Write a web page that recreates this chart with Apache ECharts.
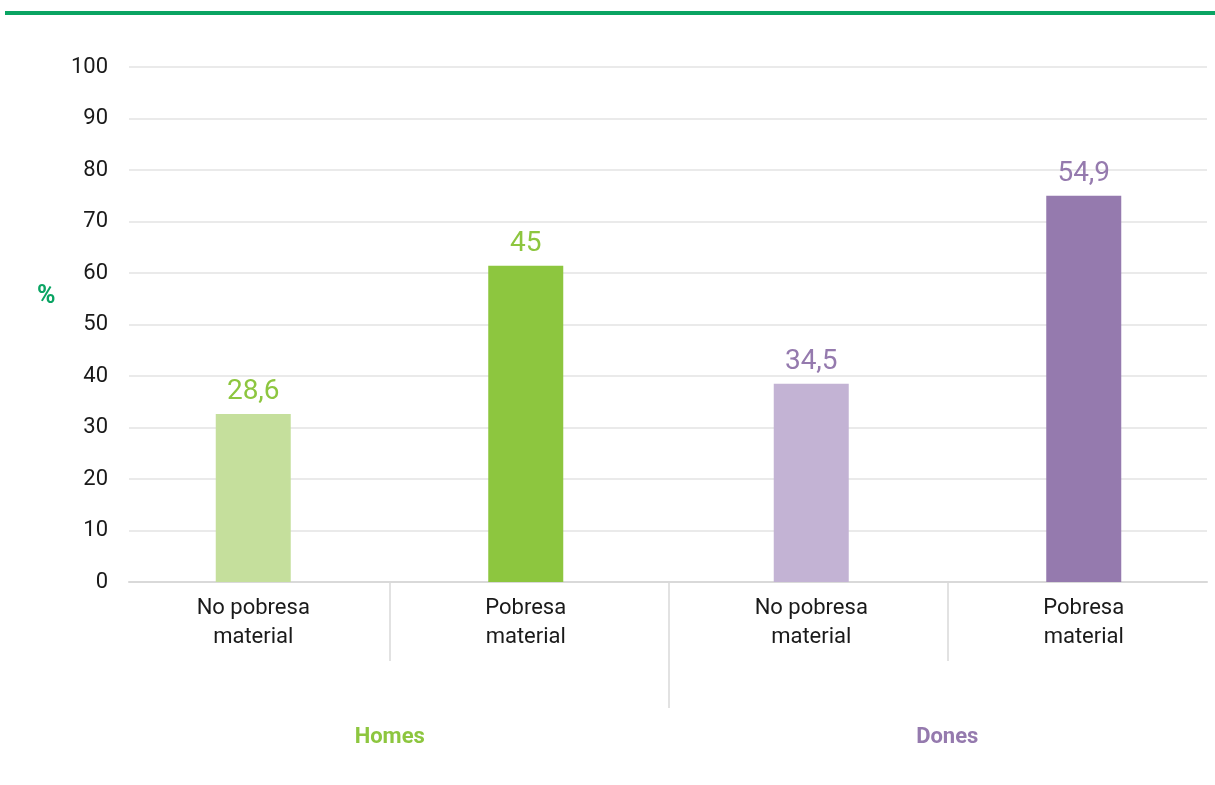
<!DOCTYPE html>
<html>
<head>
<meta charset="utf-8">
<script src="https://cdn.jsdelivr.net/npm/echarts@6/dist/echarts.min.js"></script>
<style>html,body{margin:0;padding:0;background:#fff;}#chart{width:1215px;height:785px;}</style>
</head>
<body>
<div id="chart"></div>
<script>
const categories = ['No pobresa\nmaterial', 'Pobresa\nmaterial'];
const groups = ['Homes', 'Dones'];
const homesValues = [32.6, 61.4];
const donesValues = [38.5, 75.0];
const homesLabels = ['28,6', '45'];
const donesLabels = ['34,5', '54,9'];
const yTicks = [0, 10, 20, 30, 40, 50, 60, 70, 80, 90, 100];
const homesColors = ['#c5df9c', '#8dc63f'];
const donesColors = ['#c3b3d4', '#957aae'];
const groupColors = ['#8dc63f', '#957aae'];

const FONT = 'Roboto';
const SEP = '#d9d9d9';
const gridBase = { top: 67, bottom: 203, outerBoundsMode: 'none', containLabel: false };
const wideGrid = Object.assign({ left: 111, width: 1115 }, gridBase);

function hiddenY(gi) {
  return { gridIndex: gi, type: 'value', min: 0, max: 100, interval: 10, show: false };
}
function tickAxis(gi, vals, len) {
  return { gridIndex: gi, type: 'value', position: 'bottom', min: 0, max: 4, interval: 1,
    axisLine: { show: false }, axisLabel: { show: false }, splitLine: { show: false },
    axisTick: { show: true, customValues: vals, length: len, lineStyle: { color: SEP, width: 1.5 } } };
}
function catAxis(gi) {
  return { gridIndex: gi, type: 'category', position: 'bottom', data: categories,
    axisLine: { show: false }, axisTick: { show: false },
    axisLabel: { color: '#1a1a1a', fontSize: 22, lineHeight: 29, margin: 12, fontFamily: FONT } };
}
function barSeries(gi, vals, labels, colors, labelColor) {
  return {
    type: 'bar', xAxisIndex: gi, yAxisIndex: gi, barWidth: 75,
    data: vals.map(function (v, i) {
      return {
        value: v,
        itemStyle: { color: colors[i] },
        label: { show: true, position: 'top', distance: 8, formatter: labels[i],
          color: labelColor, fontSize: 28, fontFamily: FONT }
      };
    })
  };
}

const chart = echarts.init(document.getElementById('chart'));
chart.setOption({
  animation: false,
  backgroundColor: '#ffffff',
  textStyle: { fontFamily: FONT },
  title: {
    text: '%', left: 32, top: 279,
    textStyle: { color: '#0aa463', fontSize: 25, fontWeight: 'bold', fontFamily: FONT }
  },
  graphic: [{
    type: 'rect', left: 5, top: 11,
    shape: { width: 1210, height: 4 },
    style: { fill: '#0aa463' }
  }],
  grid: [
    Object.assign({ left: 129, width: 1078 }, gridBase),
    Object.assign({ left: 117, width: 545 }, gridBase),
    Object.assign({ left: 675, width: 545 }, gridBase),
    Object.assign({}, wideGrid),
    Object.assign({}, wideGrid),
    Object.assign({}, wideGrid)
  ],
  xAxis: [
    { gridIndex: 0, type: 'category', position: 'bottom', data: categories,
      axisLine: { lineStyle: { color: SEP, width: 2 } },
      axisTick: { show: false }, axisLabel: { show: false }, splitLine: { show: false } },
    catAxis(1),
    catAxis(2),
    { gridIndex: 3, type: 'category', position: 'bottom', data: groups,
      axisLine: { show: false }, axisTick: { show: false },
      axisLabel: { fontSize: 22, fontWeight: 'bold', margin: 144, fontFamily: FONT,
        color: function (v, i) { return groupColors[i]; } } },
    tickAxis(4, [1, 3], 79),
    tickAxis(5, [2], 126)
  ],
  yAxis: [
    { gridIndex: 0, type: 'value', min: yTicks[0], max: yTicks[yTicks.length - 1], interval: 10,
      axisLine: { show: false }, axisTick: { show: false },
      axisLabel: { color: '#1a1a1a', fontSize: 22, margin: 21, fontFamily: FONT },
      splitLine: { lineStyle: { color: '#e3e3e3', width: 1.5 } } },
    hiddenY(1), hiddenY(2), hiddenY(3), hiddenY(4), hiddenY(5)
  ],
  series: [
    barSeries(1, homesValues, homesLabels, homesColors, groupColors[0]),
    barSeries(2, donesValues, donesLabels, donesColors, groupColors[1])
  ]
});
</script>
</body>
</html>
